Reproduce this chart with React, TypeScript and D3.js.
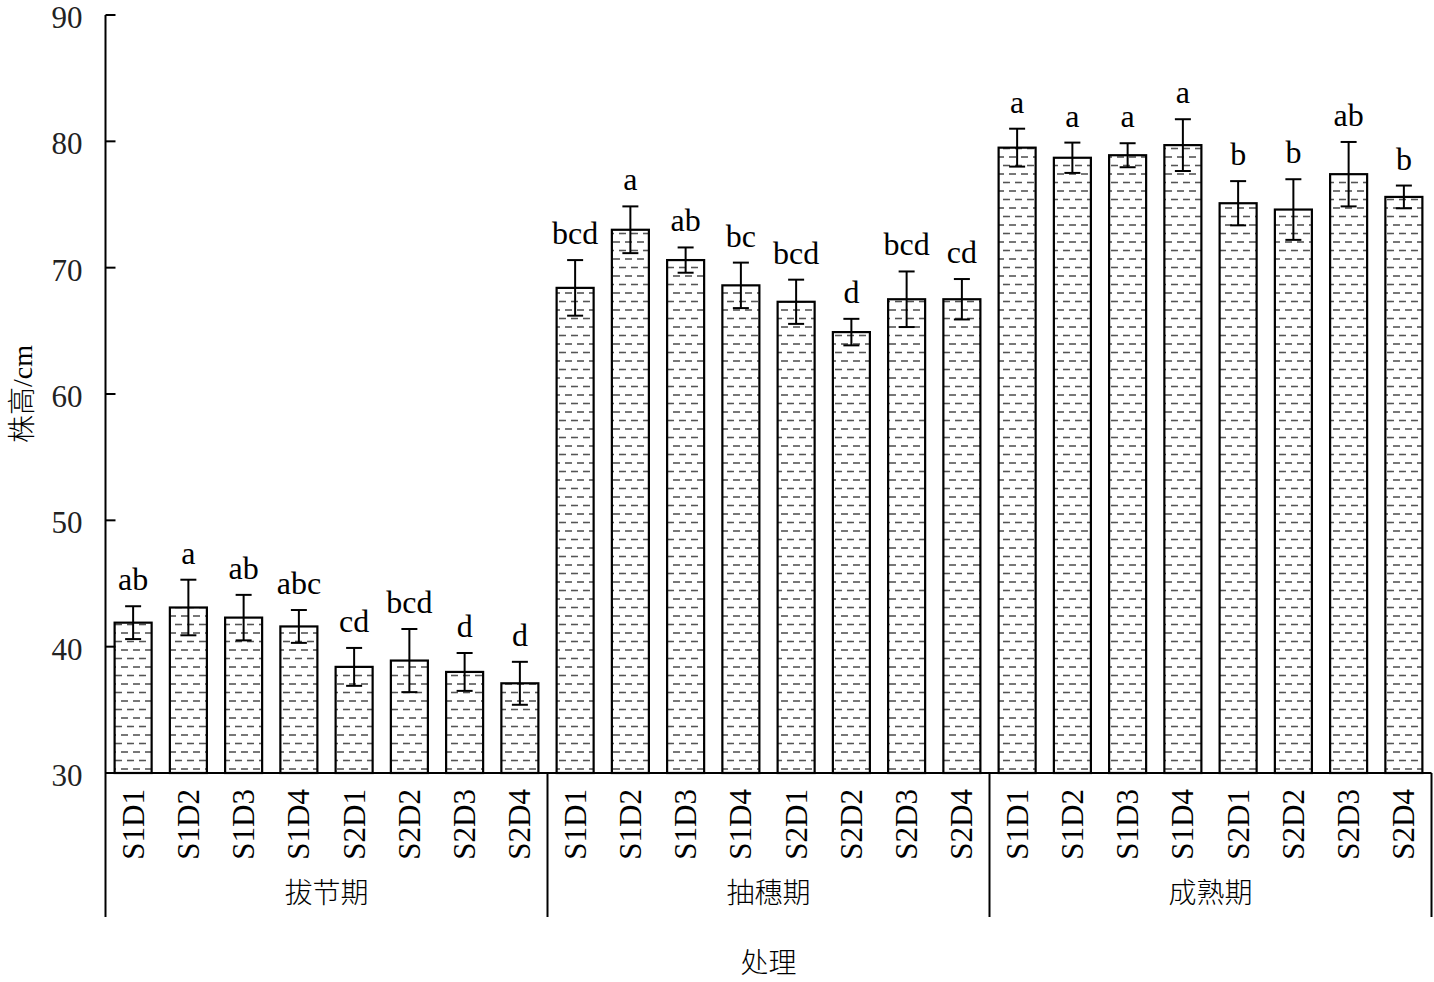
import React from 'react';
import * as d3 from 'd3';

// stages and treatments
const stages = ['拔节期', '抽穗期', '成熟期'];
const treatments = ['S1D1', 'S1D2', 'S1D3', 'S1D4', 'S2D1', 'S2D2', 'S2D3', 'S2D4'];

// plant height means (cm), one array per stage
const jointingMean = [41.9, 43.1, 42.3, 41.6, 38.4, 38.9, 38.0, 37.1];
const headingMean = [68.4, 73.0, 70.6, 68.6, 67.3, 64.9, 67.5, 67.5];
const maturityMean = [79.5, 78.7, 78.9, 79.7, 75.1, 74.6, 77.4, 75.6];

// standard errors
const jointingErr = [1.3, 2.2, 1.8, 1.3, 1.5, 2.5, 1.5, 1.7];
const headingErr = [2.2, 1.85, 1.0, 1.8, 1.75, 1.05, 2.2, 1.6];
const maturityErr = [1.5, 1.2, 0.95, 2.05, 1.75, 2.4, 2.55, 0.9];

// significance letters
const jointingSig = ['ab', 'a', 'ab', 'abc', 'cd', 'bcd', 'd', 'd'];
const headingSig = ['bcd', 'a', 'ab', 'bc', 'bcd', 'd', 'bcd', 'cd'];
const maturitySig = ['a', 'a', 'a', 'a', 'b', 'b', 'ab', 'b'];

const yTicks = [30, 40, 50, 60, 70, 80, 90];

const means = [jointingMean, headingMean, maturityMean];
const errs = [jointingErr, headingErr, maturityErr];
const sigs = [jointingSig, headingSig, maturitySig];

const rows = stages.flatMap((stage, si) =>
  treatments.map((t, ti) => ({
    key: `${stage}-${t}`,
    stage,
    treatment: t,
    value: means[si][ti],
    err: errs[si][ti],
    sig: sigs[si][ti],
  }))
);

const W = 1434;
const H = 982;
const FONT = '"Liberation Serif", "Times New Roman", "Noto Sans CJK SC", serif';

const App: React.FC = () => {
  const left = 105.5;
  const right = 1431.5;
  const top = 15;
  const bottom = 773;

  const x = d3
    .scaleBand<string>()
    .domain(rows.map((d) => d.key))
    .range([left, right])
    .paddingInner(0.33)
    .paddingOuter(0.165);

  const xStage = d3.scaleBand<string>().domain(stages).range([left, right]);

  const y = d3.scaleLinear().domain([30, 90]).range([bottom, top]);

  const bw = x.bandwidth();
  const cap = 8;

  return (
    <svg
      width={W}
      height={H}
      style={{ position: 'absolute', left: 0, top: 0, background: '#fff' }}
      fontFamily={FONT}
    >
      <defs>
        <pattern id="dash" patternUnits="userSpaceOnUse" width={12} height={17}>
          <rect width={12} height={17} fill="#fff" />
          <line x1={1} x2={8} y1={4} y2={4} stroke="#555" strokeWidth={1.6} />
          <line x1={7} x2={12} y1={12.5} y2={12.5} stroke="#555" strokeWidth={1.6} />
          <line x1={0} x2={2} y1={12.5} y2={12.5} stroke="#555" strokeWidth={1.6} />
        </pattern>
      </defs>

      {/* bars */}
      {rows.map((d) => (
        <rect
          key={d.key}
          x={x(d.key)}
          y={y(d.value)}
          width={bw}
          height={bottom - y(d.value)}
          fill="url(#dash)"
          stroke="#000"
          strokeWidth={2.2}
        />
      ))}

      {/* error bars and letters */}
      {rows.map((d) => {
        const cx = (x(d.key) as number) + bw / 2;
        const y1 = y(d.value + d.err);
        const y2 = y(d.value - d.err);
        return (
          <g key={`e-${d.key}`} stroke="#000" strokeWidth={2}>
            <line x1={cx} x2={cx} y1={y1} y2={y2} />
            <line x1={cx - cap} x2={cx + cap} y1={y1} y2={y1} />
            <line x1={cx - cap} x2={cx + cap} y1={y2} y2={y2} />
            <text
              x={cx}
              y={y1 - 16}
              textAnchor="middle"
              fontSize={32}
              fill="#000"
              stroke="none"
            >
              {d.sig}
            </text>
          </g>
        );
      })}

      {/* y axis */}
      <line x1={left} x2={left} y1={top} y2={bottom} stroke="#000" strokeWidth={2} />
      {yTicks.map((t) => (
        <g key={t}>
          <line x1={left} x2={left + 10} y1={y(t)} y2={y(t)} stroke="#000" strokeWidth={2} />
          <text
            x={left - 23}
            y={y(t) + 13}
            textAnchor="end"
            fontSize={31}
            fill="#222"
          >
            {t}
          </text>
        </g>
      ))}

      {/* x axis */}
      <line x1={left} x2={right} y1={bottom} y2={bottom} stroke="#000" strokeWidth={2} />
      {[left, ...stages.map((s) => (xStage(s) as number) + xStage.bandwidth())].map((sx, i) => (
        <line key={i} x1={sx} x2={sx} y1={bottom} y2={917} stroke="#000" strokeWidth={2} />
      ))}
      {rows.map((d) => {
        const cx = (x(d.key) as number) + bw / 2;
        return (
          <text
            key={`l-${d.key}`}
            transform={`translate(${cx},789) rotate(-90)`}
            textAnchor="end"
            dominantBaseline="central"
            fontSize={31}
            fill="#000"
          >
            {d.treatment}
          </text>
        );
      })}
      {stages.map((s) => (
        <text
          key={s}
          x={(xStage(s) as number) + xStage.bandwidth() / 2}
          y={893}
          textAnchor="middle"
          dominantBaseline="central"
          fontSize={28}
          fontWeight={300}
          fill="#000"
        >
          {s}
        </text>
      ))}

      {/* axis titles */}
      <text
        x={(left + right) / 2}
        y={963}
        textAnchor="middle"
        dominantBaseline="central"
        fontSize={28}
        fontWeight={300}
        fill="#000"
      >
        处理
      </text>
      <text
        transform={`translate(22,${(top + bottom) / 2}) rotate(-90)`}
        textAnchor="middle"
        dominantBaseline="central"
        fontSize={28}
        fontWeight={300}
        fill="#000"
      >
        株高/cm
      </text>
    </svg>
  );
};

export default App;
